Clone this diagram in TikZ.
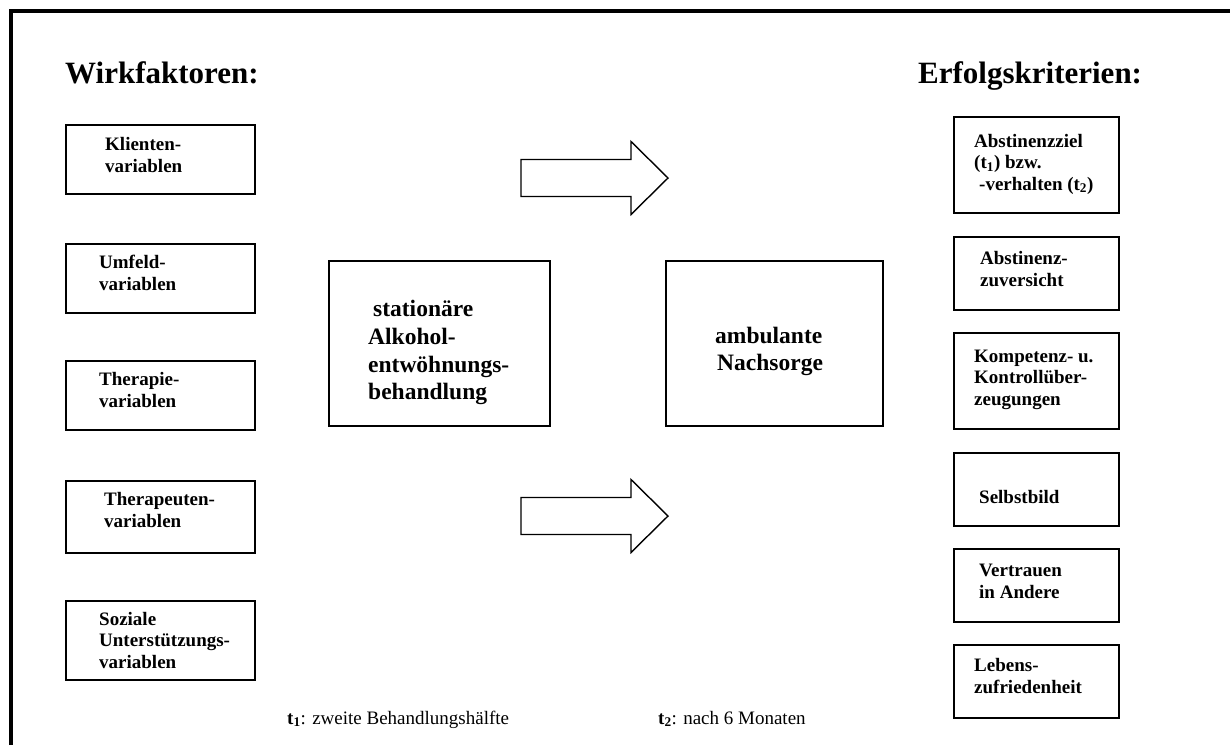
\documentclass[tikz,border=0pt]{standalone}
\usepackage{fontspec}
\setmainfont{Liberation Serif}
\usetikzlibrary{positioning}

\tikzset{
  kasten/.style={draw, line width=1.8pt, inner sep=0pt, anchor=north west},
  ktext/.style={font=\bfseries\fontsize{19}{21.5}\selectfont, align=left, inner sep=0pt, anchor=base west},
  mtext/.style={font=\bfseries\fontsize{23.5}{27.5}\selectfont, inner sep=0pt, anchor=base west},
  titel/.style={font=\bfseries\fontsize{31}{36}\selectfont, inner sep=0pt, anchor=base west},
  fuss/.style={font=\fontsize{19}{22}\selectfont, inner sep=0pt, anchor=base west},
  pics/blockpfeil/.style={code={
    \draw[line width=1.4pt, line join=miter] (0,-18.5) -- (110,-18.5) -- (110,-36.5)
      -- (147,0) -- (110,36.5) -- (110,18.5) -- (0,18.5) -- cycle;}}
}

\begin{document}
\begin{tikzpicture}[x=1pt, y=-1pt]
  \useasboundingbox (0,0) rectangle (1230,745);
  \draw[line width=4pt] (11,745) -- (11,11) -- (1230,11);

  \node[titel] (wirk) at (65,83) {Wirkfaktoren:};
  \node[titel] (erfolg) at (918,83) {Erfolgskriterien:};

  % Wirkfaktoren (text placed at baseline of last line)
  \node[kasten, minimum width=189pt, minimum height=69pt] (klient) at (65,124) {};
  \node[ktext] (klienttxt) at (105,172) {Klienten-\\variablen};
  \node[kasten, minimum width=189pt, minimum height=69pt] (umfeld) at (65,243) {};
  \node[ktext] (umfeldtxt) at (99,290) {Umfeld-\\variablen};
  \node[kasten, minimum width=189pt, minimum height=69pt] (therapie) at (65,360) {};
  \node[ktext] (therapietxt) at (99,407) {Therapie-\\variablen};
  \node[kasten, minimum width=189pt, minimum height=72pt] (therapeut) at (65,480) {};
  \node[ktext] (therapeuttxt) at (104,527) {Therapeuten-\\variablen};
  \node[kasten, minimum width=189pt, minimum height=79pt] (sozial) at (65,600) {};
  \node[ktext] (sozialtxt) at (99,668) {Soziale\\Unterstützungs-\\variablen};

  % Behandlung
  \node[kasten, minimum width=221pt, minimum height=165pt] (stationaer) at (328,260) {};
  \node[mtext] (stat1) at (373,316) {stationäre};
  \node[mtext] (stat2) at (368,344) {Alkohol-};
  \node[mtext] (stat3) at (368,372) {entwöhnungs-};
  \node[mtext] (stat4) at (368,399) {behandlung};
  \node[kasten, minimum width=217pt, minimum height=165pt] (ambulant) at (665,260) {};
  \node[mtext] (amb1) at (715,343) {ambulante};
  \node[mtext] (amb2) at (717,370) {Nachsorge};

  \pic at (521,178) {blockpfeil};
  \pic at (521,516) {blockpfeil};

  % Erfolgskriterien
  \node[kasten, minimum width=165pt, minimum height=96pt] (ziel) at (953,116) {};
  \node[ktext] (zieltxt) at (974,190) {Abstinenzziel\\(t\textsubscript{1}) bzw.\\\hspace{5pt}-verhalten (t\textsubscript{2})};
  \node[kasten, minimum width=165pt, minimum height=73pt] (zuversicht) at (953,236) {};
  \node[ktext] (zuversichttxt) at (980,286) {Abstinenz-\\zuversicht};
  \node[kasten, minimum width=165pt, minimum height=96pt] (kompetenz) at (953,332) {};
  \node[ktext] (kompetenztxt) at (974,405) {Kompetenz- u.\\Kontrollüber-\\zeugungen};
  \node[kasten, minimum width=165pt, minimum height=73pt] (selbst) at (953,452) {};
  \node[ktext] (selbsttxt) at (979,503) {Selbstbild};
  \node[kasten, minimum width=165pt, minimum height=73pt] (vertrauen) at (953,548) {};
  \node[ktext] (vertrauentxt) at (979,598) {Vertrauen\\in Andere};
  \node[kasten, minimum width=165pt, minimum height=73pt] (lebens) at (953,644) {};
  \node[ktext] (lebenstxt) at (974,693) {Lebens-\\zufriedenheit};

  \node[fuss] (tone) at (287,724) {\textbf{t\textsubscript{1}}: zweite Behandlungshälfte};
  \node[fuss] (ttwo) at (658,724) {\textbf{t\textsubscript{2}}: nach 6 Monaten};
\end{tikzpicture}
\end{document}
